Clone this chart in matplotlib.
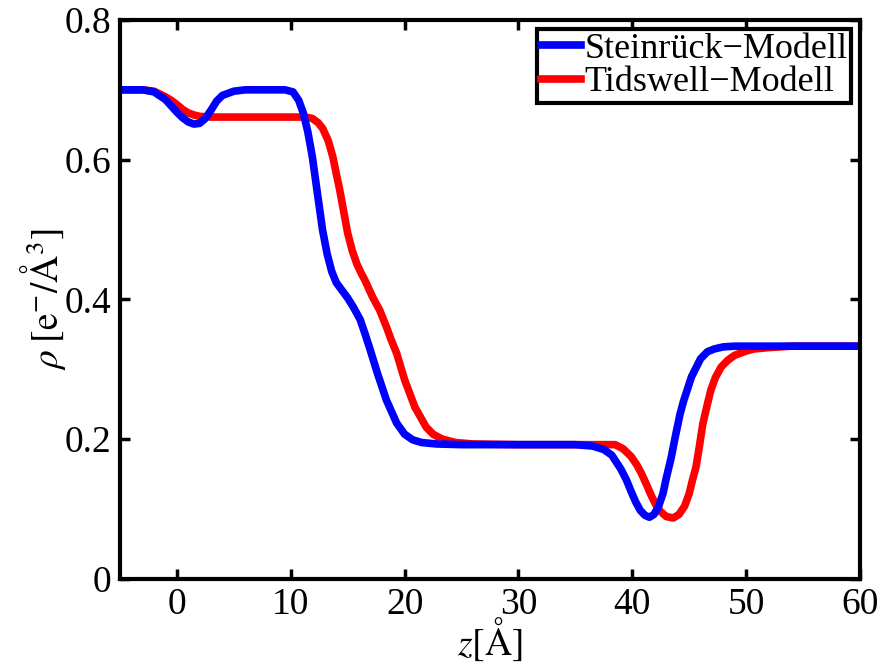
import matplotlib
matplotlib.use("Agg")
import matplotlib.pyplot as plt

plt.rcParams['font.family'] = ['Liberation Serif', 'DejaVu Serif']
plt.rcParams['mathtext.fontset'] = 'stix'

labels = ["Steinrück\u2212Modell", "Tidswell\u2212Modell"]

z_stein = [-5, -3, -2, -1, -0.5, 0, 0.5, 1, 1.5, 2, 2.5, 3, 3.5, 4, 5, 6, 8, 9.5,
           10.2, 10.7, 11.1, 11.5, 11.9, 12.3, 12.8, 13.2, 13.6, 14.0, 14.5, 15.0,
           15.5, 16.1, 16.5, 16.9, 17.6, 18.4, 19.3, 20.0, 20.7, 21.5, 22.8, 25,
           30, 35, 36.5, 37.5, 38.2, 39.0, 39.5, 39.9, 40.3, 40.7, 41.1, 41.5, 41.9,
           42.3, 42.7, 43.0, 43.4, 43.8, 44.2, 44.5, 45.2, 46.0, 46.6, 47.2, 48, 49,
           50, 55, 60]
rho_stein = [0.700, 0.700, 0.697, 0.686, 0.677, 0.668, 0.660, 0.654, 0.651, 0.652,
             0.659, 0.671, 0.684, 0.692, 0.698, 0.700, 0.700, 0.700,
             0.697, 0.685, 0.667, 0.640, 0.604, 0.557, 0.499, 0.465, 0.440, 0.424,
             0.413, 0.402, 0.389, 0.371, 0.352, 0.332, 0.295, 0.256, 0.223, 0.207,
             0.199, 0.195, 0.193, 0.192, 0.192, 0.192, 0.190, 0.185, 0.177, 0.157,
             0.141, 0.125, 0.110, 0.098, 0.091, 0.088, 0.092, 0.103, 0.122, 0.145,
             0.172, 0.205, 0.236, 0.254, 0.289, 0.315, 0.325, 0.329, 0.332, 0.333,
             0.333, 0.333, 0.333]

z_tids = [-5, -3, -2, -1, -0.5, 0, 0.5, 1, 1.5, 2, 3, 11.3, 11.9, 12.4, 12.8, 13.3,
          13.7, 14.0, 14.3, 15.0, 15.4, 15.8, 16.2, 16.5, 17.2, 17.8, 18.4, 18.8,
          19.3, 20.0, 20.9, 21.9, 22.5, 23.3, 24.5, 26, 30, 37, 38.5, 39.2, 39.9,
          40.4, 40.8, 41.3, 41.7, 42.1, 42.5, 43.0, 43.6, 44.1, 44.6, 45.0, 45.3,
          45.6, 45.9, 46.2, 46.6, 46.9, 47.3, 47.8, 48.4, 49.0, 50.0, 50.7, 52, 54, 60]
rho_tids = [0.700, 0.700, 0.698, 0.690, 0.685, 0.679, 0.672, 0.667, 0.664, 0.662,
            0.661, 0.661, 0.659, 0.653, 0.645, 0.627, 0.604, 0.580, 0.557, 0.495,
            0.470, 0.451, 0.437, 0.428, 0.403, 0.385, 0.361, 0.343, 0.323, 0.285,
            0.246, 0.217, 0.207, 0.200, 0.195, 0.193, 0.192, 0.192, 0.192, 0.186,
            0.175, 0.163, 0.151, 0.133, 0.118, 0.105, 0.096, 0.089, 0.087, 0.092,
            0.104, 0.122, 0.142, 0.160, 0.190, 0.222, 0.250, 0.270, 0.288, 0.303,
            0.313, 0.320, 0.326, 0.329, 0.331, 0.333, 0.333]

xticks = [0, 10, 20, 30, 40, 50, 60]
yticks = [0, 0.2, 0.4, 0.6, 0.8]
ytick_labels = ["0", "0.2", "0.4", "0.6", "0.8"]

fig = plt.figure(figsize=(8.82, 6.66), dpi=100)
ax = fig.add_axes([0.136, 0.131, 0.839, 0.839])

l2, = ax.plot(z_tids, rho_tids, color='#ff0000', lw=5.5, solid_joinstyle='round')
l1, = ax.plot(z_stein, rho_stein, color='#0000ff', lw=5.5, solid_joinstyle='round')

ax.set_xlim(-5, 60)
ax.set_ylim(0, 0.8)
ax.set_xticks(xticks)
ax.set_xticklabels([str(t) for t in xticks])
ax.set_yticks(yticks)
ax.set_yticklabels(ytick_labels)
ax.tick_params(direction='in', length=7, width=2.5, labelsize=27,
               top=True, right=True, pad=6)
for s in ax.spines.values():
    s.set_linewidth(3)

ax.set_xlabel(r'$z[\mathrm{\AA}]$', fontsize=27, labelpad=-4)
ax.set_ylabel(r'$\rho\;[\mathrm{e}^{-}/\mathrm{\AA}^{3}]$', fontsize=27, labelpad=-2)

leg = ax.legend([l1, l2], labels, loc='upper right', fontsize=26, frameon=True,
                fancybox=False, framealpha=1, edgecolor='black', handlelength=1.1,
                handletextpad=0.1, borderpad=0.1, labelspacing=0.0,
                borderaxespad=0.25)
leg.get_frame().set_linewidth(3)
for h in leg.get_lines():
    h.set_linewidth(5.5)

fig.savefig('out.png', dpi=100)
